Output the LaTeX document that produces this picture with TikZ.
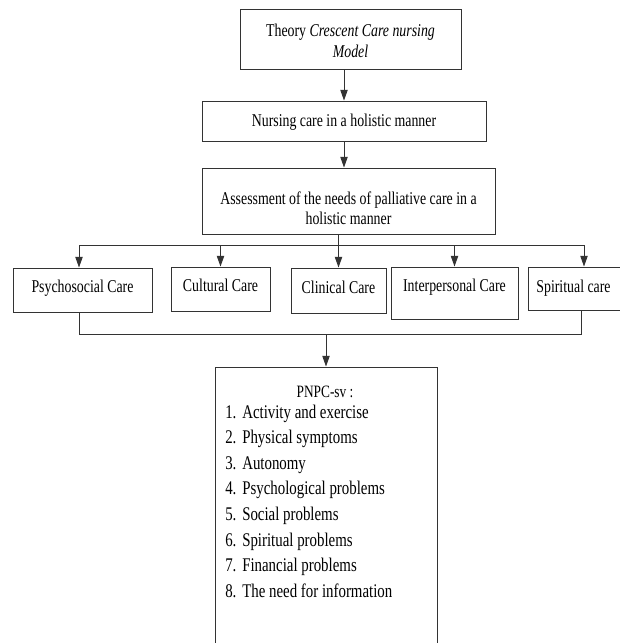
\documentclass[tikz,border=0pt]{standalone}
\usepackage{fontspec}
\setmainfont{Liberation Serif}[FakeStretch=0.77]
\usetikzlibrary{arrows.meta}
\newcommand{\vsh}[2]{\raisebox{#1}[\height][\depth]{\begin{tabular}{@{}c@{}}#2\end{tabular}}}
\begin{document}
\begin{tikzpicture}[x=0.75pt,y=-0.75pt,
  box/.style={draw=black!80, line width=0.7pt, inner sep=0pt, font=\fontsize{13.5}{15.6}\selectfont},
  arr/.style={draw=black!80, line width=0.7pt, -{Triangle[length=8pt,width=5.5pt]}},
  ln/.style={draw=black!80, line width=0.7pt}]
\useasboundingbox (0,0) rectangle (620,643);
\clip (0,0) rectangle (620,643);
\fill[white] (0,0) rectangle (620,643);

\node[box, minimum width={221*0.75pt}, minimum height={60*0.75pt}] (theory) at (350.5,39)
  {\vsh{-3pt}{Theory \textit{Crescent Care nursing}\\\textit{Model}}};
\node[box, minimum width={284*0.75pt}, minimum height={40*0.75pt}] (nursing) at (344,121)
  {\vsh{-1pt}{Nursing care in a holistic manner}};
\node[box, minimum width={293*0.75pt}, minimum height={66*0.75pt}] (assess) at (348.5,201)
  {\vsh{-7pt}{Assessment of the needs of palliative care in a\\holistic manner}};

\node[box, minimum width={139*0.75pt}, minimum height={44*0.75pt}] (psy) at (82.5,290)
  {\vsh{1pt}{Psychosocial Care}};
\node[box, minimum width={99*0.75pt}, minimum height={44*0.75pt}] (cul) at (220.5,289)
  {\vsh{1pt}{Cultural Care}};
\node[box, minimum width={95*0.75pt}, minimum height={45*0.75pt}] (cli) at (338.5,290.5)
  {\vsh{1pt}{Clinical Care}};
\node[box, minimum width={127*0.75pt}, minimum height={52*0.75pt}] (int) at (454.5,293)
  {\vsh{4pt}{Interpersonal Care}};
\node[box, minimum width={97*0.75pt}, minimum height={43*0.75pt}] (spi) at (576.5,288.5)
  {\vsh{0pt}{\hspace*{-4.5pt}Spiritual care}};

\node[box, minimum width={222*0.75pt}, minimum height={293*0.75pt}] (pnpc) at (326,513.5) {};
\node[font=\fontsize{13}{15}\selectfont, inner sep=0pt] (pnpctitle) at (325,392) {PNPC-sv :};
\node[font=\fontsize{14.5}{19.2}\selectfont, inner sep=0pt, anchor=base west] (pnpclist) at (225,418)
  {\begin{tabular}[t]{@{}p{12.75pt}@{}l@{}}
   1. & Activity and exercise\\
   2. & Physical symptoms\\
   3. & Autonomy\\
   4. & Psychological problems\\
   5. & Social problems\\
   6. & Spiritual problems\\
   7. & Financial problems\\
   8. & The need for information
   \end{tabular}};

\draw[arr] (theory.south -| nursing.north) -- (nursing.north);
\draw[arr] (nursing.south) -- (nursing.south |- assess.north);

\coordinate (busL) at (79,245);
\coordinate (busR) at (584,245);
\draw[ln] (busL) -- (busR);
\draw[arr] (assess.south -| cli.north) -- (cli.north);
\draw[arr] (busL) -- (busL |- psy.north);
\draw[arr] (cul.north |- busL) -- (cul.north);
\draw[arr] (int.north |- busL) -- (int.north);
\draw[arr] (busR) -- (busR |- spi.north);

\coordinate (botL) at (79,334);
\coordinate (botR) at (581,334);
\draw[ln] (botL |- psy.south) -- (botL) -- (botR) -- (botR |- spi.south);
\draw[arr] (pnpc.north |- botL) -- (pnpc.north);
\end{tikzpicture}
\end{document}
